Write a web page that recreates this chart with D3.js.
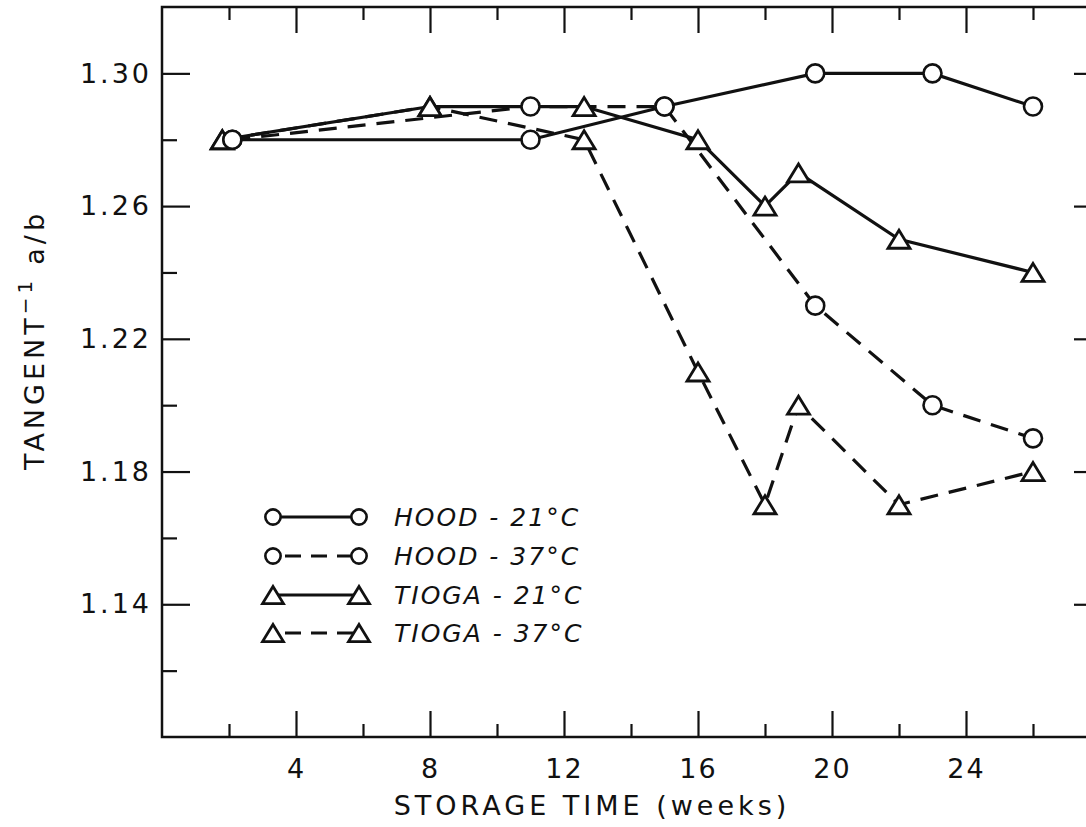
<!DOCTYPE html>
<html>
<head>
<meta charset="utf-8">
<script src="https://cdn.jsdelivr.net/npm/d3@7"></script>
<style>
  html, body { margin: 0; padding: 0; background: #fff; }
  svg { display: block; }
  text { font-family: "DejaVu Sans", sans-serif; fill: #111; }
</style>
</head>
<body>
<svg id="chart" width="1086" height="827"></svg>
<script>
// ---- data ----
const hoodWeeks = [2.1, 11, 15, 19.5, 23, 26];
const hood21 = [1.28, 1.28, 1.29, 1.30, 1.30, 1.29];
const hood37 = [1.28, 1.29, 1.29, 1.23, 1.20, 1.19];
const tiogaWeeks = [1.8, 8, 12.6, 16, 18, 19, 22, 26];
const tioga21 = [1.28, 1.29, 1.29, 1.28, 1.26, 1.27, 1.25, 1.24];
const tioga37 = [1.28, 1.29, 1.28, 1.21, 1.17, 1.20, 1.17, 1.18];
const seriesNames = ["HOOD - 21°C", "HOOD - 37°C", "TIOGA - 21°C", "TIOGA - 37°C"];
const xMajorTicks = [4, 8, 12, 16, 20, 24];
const xMinorTicks = [2, 6, 10, 14, 18, 22, 26];
const yMajorTicks = [1.14, 1.18, 1.22, 1.26, 1.30];
const yMinorTicks = [1.12, 1.16, 1.20, 1.24, 1.28];
const xTitle = "STORAGE TIME (weeks)";

// ---- layout ----
const L = 162, R = 1100, T = 7, B = 737;
const svg = d3.select("#chart");
const x = d3.scaleLinear().domain([0, 28]).range([L, R]);
const y = d3.scaleLinear().domain([1.10, 1.32]).range([B, T]);
const ink = "#111";

// frame
svg.append("rect").attr("x", L).attr("y", T).attr("width", R - L).attr("height", B - T)
  .attr("fill", "none").attr("stroke", ink).attr("stroke-width", 2.5);

function ticks(axisFn, scale, values, size, transform) {
  const g = svg.append("g").attr("transform", transform)
    .call(axisFn(scale).tickValues(values).tickSize(size).tickFormat(""));
  g.select(".domain").remove();
  g.selectAll("line").attr("stroke", ink).attr("stroke-width", 2.2);
  return g;
}
// left (inward)
ticks(d3.axisRight, y, yMajorTicks, 28, `translate(${L},0)`);
ticks(d3.axisRight, y, yMinorTicks, 15, `translate(${L},0)`);
// right (inward)
ticks(d3.axisLeft, y, yMajorTicks, 26, `translate(${R},0)`);
ticks(d3.axisLeft, y, yMinorTicks, 13, `translate(${R},0)`);
// bottom (inward)
ticks(d3.axisTop, x, xMajorTicks, 26, `translate(0,${B})`);
ticks(d3.axisTop, x, xMinorTicks, 13, `translate(0,${B})`);
// top (inward)
ticks(d3.axisBottom, x, xMajorTicks, 26, `translate(0,${T})`);
ticks(d3.axisBottom, x, xMinorTicks, 13, `translate(0,${T})`);

// tick labels
const yl = svg.append("g").attr("transform", `translate(${L},0)`)
  .call(d3.axisLeft(y).tickValues(yMajorTicks).tickSize(0).tickPadding(10).tickFormat(d3.format(".2f")));
yl.select(".domain").remove();
yl.selectAll("text").attr("font-size", 27).attr("letter-spacing", 3)
  .attr("font-family", "DejaVu Sans").attr("fill", ink);

const xl = svg.append("g").attr("transform", `translate(0,${B})`)
  .call(d3.axisBottom(x).tickValues(xMajorTicks).tickSize(0).tickPadding(22).tickFormat(d3.format("d")));
xl.select(".domain").remove();
xl.selectAll("text").attr("font-size", 27).attr("letter-spacing", 2)
  .attr("font-family", "DejaVu Sans").attr("fill", ink);

// axis titles
svg.append("text").attr("x", 592).attr("y", 815).attr("text-anchor", "middle")
  .attr("font-size", 27).attr("letter-spacing", 4).text(xTitle);

const yt = svg.append("text").attr("transform", "translate(44,362) rotate(-90)")
  .attr("font-size", 27).attr("letter-spacing", 4).attr("x", -108);
yt.append("tspan").text("TANGENT");
yt.append("tspan").attr("font-size", 20).attr("dy", -12).text("−1");
yt.append("tspan").attr("dy", 12).attr("dx", 12).text("a/b");

// ---- series ----
const series = [
  { name: seriesNames[0], xs: hoodWeeks, ys: hood21, shape: "circle", dash: null },
  { name: seriesNames[1], xs: hoodWeeks, ys: hood37, shape: "circle", dash: "18,11" },
  { name: seriesNames[2], xs: tiogaWeeks, ys: tioga21, shape: "triangle", dash: null },
  { name: seriesNames[3], xs: tiogaWeeks, ys: tioga37, shape: "triangle", dash: "18,11" },
];

const line = d3.line().x(d => x(d[0])).y(d => y(d[1]));

function marker(g, shape, cx, cy, scale) {
  if (shape === "circle") {
    g.append("circle").attr("cx", cx).attr("cy", cy).attr("r", 9 * scale)
      .attr("fill", "#fff").attr("stroke", ink).attr("stroke-width", 2.6);
  } else {
    const w = 22 * scale, h = 18 * scale;
    g.append("path")
      .attr("d", `M${cx},${cy - h / 2}L${cx + w / 2},${cy + h / 2}L${cx - w / 2},${cy + h / 2}Z`)
      .attr("fill", "#fff").attr("stroke", ink).attr("stroke-width", 2.8)
      .attr("stroke-linejoin", "miter");
  }
}

// lines first, markers on top
series.forEach(s => {
  const pts = s.xs.map((v, i) => [v, s.ys[i]]);
  svg.append("path").datum(pts).attr("d", line)
    .attr("fill", "none").attr("stroke", ink).attr("stroke-width", 3.2)
    .attr("stroke-dasharray", s.dash);
});
const mg = svg.append("g");
[2, 3, 0, 1].forEach(k => {
  const s = series[k];
  s.xs.forEach((v, i) => marker(mg, s.shape, x(v), y(s.ys[i]), 1));
});

// ---- legend ----
const legY = [517, 556, 595, 633];
const lg = svg.append("g");
series.forEach((s, i) => {
  const yy = legY[i];
  const x1 = 273, x2 = 359;
  lg.append("line").attr("x1", x1).attr("x2", x2).attr("y1", yy).attr("y2", yy)
    .attr("stroke", ink).attr("stroke-width", 3)
    .attr("stroke-dasharray", s.dash ? "16,10" : null)
    .attr("stroke-dashoffset", s.dash ? -12 : null);
  marker(lg, s.shape, x1, yy, s.shape === "circle" ? 0.85 : 0.95);
  marker(lg, s.shape, x2, yy, s.shape === "circle" ? 0.85 : 0.95);
  lg.append("text").attr("x", 394).attr("y", yy + 9)
    .attr("font-size", 25).attr("font-style", "italic").attr("letter-spacing", 2)
    .text(s.name);
});
</script>
</body>
</html>
